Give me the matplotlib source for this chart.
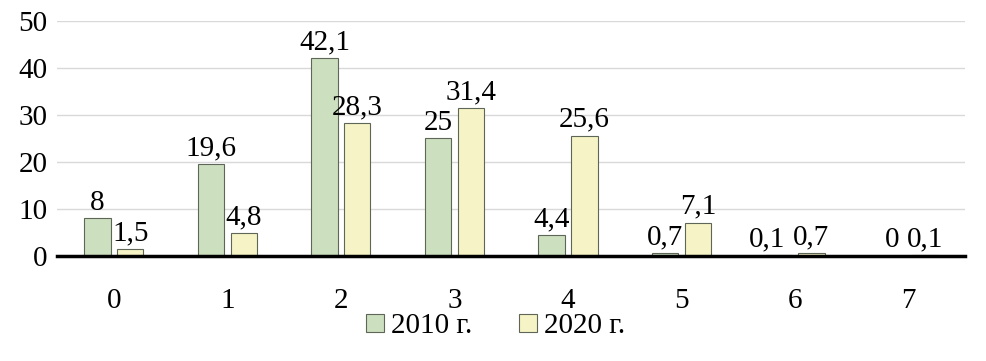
import numpy as np
import matplotlib
matplotlib.use('Agg')
import matplotlib.pyplot as plt

# data
categories = ['0', '1', '2', '3', '4', '5', '6', '7']
values_2010 = [8, 19.6, 42.1, 25, 4.4, 0.7, 0.1, 0]
values_2020 = [1.5, 4.8, 28.3, 31.4, 25.6, 7.1, 0.7, 0.1]
series_names = ['2010 г.', '2020 г.']
y_ticks = [0, 10, 20, 30, 40, 50]

green = '#CCE0C0'
yellow = '#F6F4C6'
edge = '#5E6657'

plt.rcParams['font.family'] = ['Liberation Serif', 'DejaVu Serif']
plt.rcParams['font.size'] = 21

fig = plt.figure(figsize=(9.86, 3.61), dpi=100)
ax = fig.add_axes([0.058, 0.291, 0.921, 0.651])

x = np.arange(len(categories))
w = 0.23
off = 0.145

b1 = ax.bar(x - off, values_2010, w, color=green, edgecolor=edge, linewidth=0.8,
            label=series_names[0], zorder=3)
b2 = ax.bar(x + off, values_2020, w, color=yellow, edgecolor=edge, linewidth=0.8,
            label=series_names[1], zorder=3)

def fmt(v):
    return ('%g' % v).replace('.', ',')

for bars, vals, side in [(b1, values_2010, -1), (b2, values_2020, 1)]:
    for i, (rect, v) in enumerate(zip(bars, vals)):
        # push apart labels of two small neighbouring bars so they don't collide
        dx = 0
        if side < 0 and 0 < v < 1 and 0 < values_2020[i] < 1:
            dx = -8
        ax.annotate(fmt(v), (rect.get_x() + rect.get_width() / 2, v),
                    xytext=(dx, 2), textcoords='offset points',
                    ha='center', va='bottom', zorder=4)

ax.set_xlim(-0.5, 7.5)
ax.set_ylim(0, 50)
ax.set_yticks(y_ticks)
ax.set_xticks(x)
ax.set_xticklabels(categories)
ax.tick_params(axis='both', length=0)
ax.tick_params(axis='x', pad=23)
ax.tick_params(axis='y', pad=7)

ax.grid(axis='y', color='#D9D9D9', linewidth=1, zorder=0)
for s in ['top', 'right', 'left']:
    ax.spines[s].set_visible(False)
ax.spines['bottom'].set_linewidth(2.5)
ax.spines['bottom'].set_zorder(5)

ax.legend(loc='center', bbox_to_anchor=(0.483, -0.30), ncol=2, frameon=False,
          handlelength=0.6, handleheight=0.6, handletextpad=0.25, columnspacing=1.6,
          borderpad=0, borderaxespad=0)

fig.savefig('out.png', dpi=100)
